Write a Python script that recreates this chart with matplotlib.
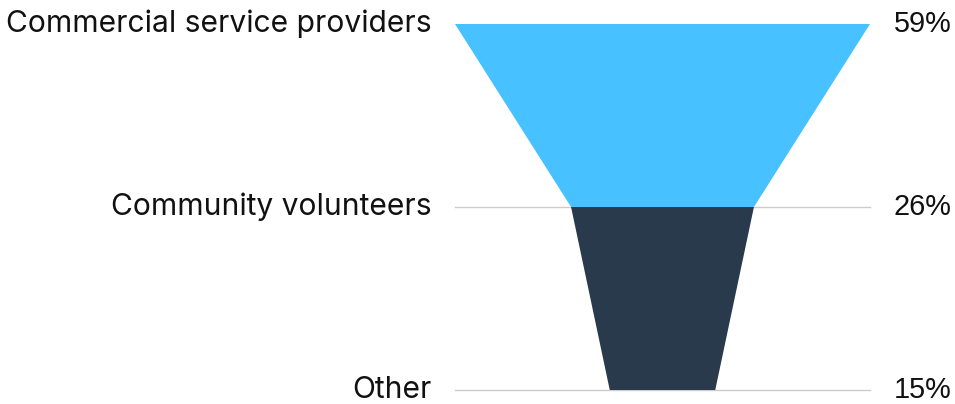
import matplotlib
matplotlib.use("Agg")
import matplotlib.pyplot as plt

labels = ["Commercial service providers", "Community volunteers", "Other"]
values = [59, 26, 15]
colors = ["#47c1ff", "#2a3a4d"]

fig = plt.figure(figsize=(9.55, 4.04), dpi=100)
ax = fig.add_axes([455 / 955, 14 / 404, 415 / 955, 366 / 404])
half = max(values) / 2
ax.set_xlim(-half, half)
ax.set_ylim(len(values) - 1, 0)
ax.axis("off")

for i in range(len(values) - 1):
    a, b = values[i] / 2, values[i + 1] / 2
    ax.fill([-a, a, b, -b], [i, i, i + 1, i + 1], color=colors[i], lw=0, zorder=2)

for i in range(1, len(values)):
    ax.plot([-half, half], [i, i], color="#cccccc", lw=1, zorder=1, clip_on=False)

for i, (lab, v) in enumerate(zip(labels, values)):
    ax.annotate(lab, (-half, i), xytext=(-17, 0), textcoords="offset points",
                ha="right", va="center", fontsize=21.6, family="Inter", color="#111111",
                annotation_clip=False)
    ax.annotate(f"{v}%", (half, i), xytext=(17, 0), textcoords="offset points",
                ha="left", va="center", fontsize=20.8, family="Liberation Sans", color="#111111",
                annotation_clip=False)

fig.savefig("out.png", dpi=100)
